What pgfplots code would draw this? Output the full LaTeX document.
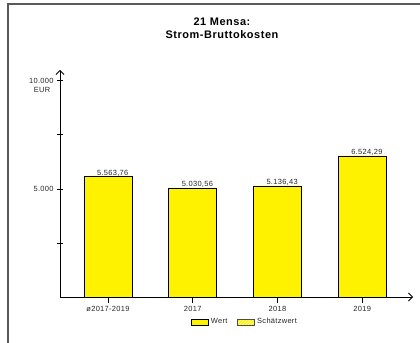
\documentclass[border=0pt]{standalone}
\usepackage{fontspec}
\setmainfont{Liberation Sans}
\usepackage{pgfplots}
\pgfplotsset{compat=1.18}
\usetikzlibrary{patterns,arrows.meta}
\newcommand{\smallfont}{\fontsize{7.5}{8.5}\selectfont\addfontfeature{LetterSpace=4}}
\begin{document}
\begin{tikzpicture}[x=1bp,y=1bp]
\useasboundingbox (0,0) rectangle (420,343);
\draw[line width=1.3bp, black!65] (8,0) -- (8,339) -- (420,339);
\node[align=center, font=\fontsize{11}{13}\selectfont\bfseries\addfontfeature{LetterSpace=5}] at (222,314.5) {21 Mensa:\\Strom-Bruttokosten};
\begin{axis}[
  at={(60bp,46bp)}, anchor=south west,
  scale only axis, width=353bp, height=227bp,
  xmin=-0.566, xmax=3.6, ymin=0, ymax=10500,
  clip=false,
  axis x line=bottom, axis y line=left,
  axis line style={line width=0.8bp, -{Straight Barb[length=4bp,width=8bp,line width=0.8bp]}},
  xtick={0,1,2,3}, xticklabels={ø2017-2019,2017,2018,2019},
  ytick={2500,5000,7500,10000}, yticklabels={,5.000,,10.000},
  scaled y ticks=false,
  xtick align=outside, ytick align=center,
  major tick length=6bp,
  tick style={line width=0.8bp, black},
  /pgf/number format/assume math mode=true,
  ticklabel style={font=\smallfont, text=black!85},
  ybar, bar width=48bp, bar shift=0pt,
  nodes near coords,
  every node near coord/.append style={/pgf/number format/fixed, /pgf/number format/fixed zerofill, /pgf/number format/precision=2, /pgf/number format/use comma, /pgf/number format/1000 sep={.}, /pgf/number format/assume math mode=true, anchor=south east, xshift=24bp, yshift=-3bp, font=\smallfont, text=black!85},
  legend style={at={(rel axis cs:0.524,-0.110)}, anchor=center, draw=none, fill=none, font=\smallfont, text=black!85, legend columns=2, /tikz/every even column/.append style={column sep=8bp}},
]
\addlegendimage{legend image code/.code={\draw[fill=yellow, draw=black, line width=0.8bp] (0bp,-3bp) rectangle (17bp,3bp);}}
\addlegendentry{Wert}
\addlegendimage{legend image code/.code={\draw[fill=yellow, draw=black!70, line width=0.8bp, postaction={pattern=north east lines, pattern color=white}] (0bp,-3bp) rectangle (17bp,3bp);}}
\addlegendentry{Schätzwert}
\addplot[fill=yellow, draw=black, line width=0.8bp, forget plot] coordinates {(0,5563.76) (1,5030.56) (2,5136.43) (3,6524.29)};
\node[anchor=north east, inner sep=0pt, font=\smallfont, text=black!85] at ([xshift=-9.5bp,yshift=-6bp]rel axis cs:0,0.95238) {EUR};
\end{axis}
\end{tikzpicture}
\end{document}
